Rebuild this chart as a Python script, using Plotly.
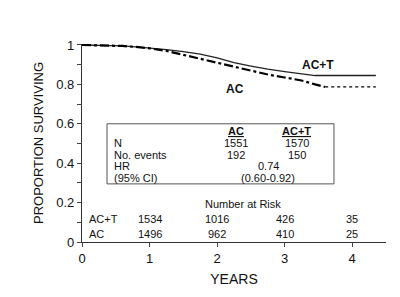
import plotly.graph_objects as go

# Kaplan-Meier curves
t_act = [0, 0.3, 0.6, 0.8, 1.0, 1.25, 1.5, 1.75, 2.0, 2.25, 2.5, 2.75, 3.0, 3.25, 3.45, 4.35]
s_act = [1, 0.998, 0.995, 0.99, 0.985, 0.976, 0.966, 0.954, 0.935, 0.91, 0.893, 0.877, 0.865, 0.855, 0.845, 0.845]
t_ac = [0, 0.3, 0.6, 0.8, 1.0, 1.25, 1.5, 1.75, 2.0, 2.25, 2.5, 2.75, 3.0, 3.25, 3.45, 3.6]
s_ac = [1, 0.998, 0.995, 0.99, 0.983, 0.97, 0.95, 0.93, 0.91, 0.89, 0.87, 0.85, 0.835, 0.82, 0.80, 0.787]
t_ac_tail = [3.6, 4.35]
s_ac_tail = [0.787, 0.787]

# Summary table
table_cols = ["AC", "AC+T"]
table_rows = ["N", "No. events", "HR", "(95% CI)"]
n_vals = ["1551", "1570"]
event_vals = ["192", "150"]
hr_text = "0.74"
ci_text = "(0.60-0.92)"

# Number at risk
risk_years = [1, 2, 3, 4]
risk_act = [1534, 1016, 426, 35]
risk_ac = [1496, 962, 410, 25]

FONT = "Liberation Sans, Arial, sans-serif"
fig = go.Figure()
fig.add_trace(go.Scatter(x=t_act, y=s_act, mode="lines",
                         line=dict(color="#222", width=1.3), showlegend=False))
fig.add_trace(go.Scatter(x=t_ac, y=s_ac, mode="lines",
                         line=dict(color="#000", width=2.2, dash="dashdot"), showlegend=False))
fig.add_trace(go.Scatter(x=t_ac_tail, y=s_ac_tail, mode="lines",
                         line=dict(color="#000", width=1.3, dash="dot"), showlegend=False))

ann = []
def A(x, y, text, size=11, xanchor="center", bold=False):
    if bold:
        text = "<b>" + text + "</b>"
    ann.append(dict(x=x, y=y, xref="x", yref="y", text=text, showarrow=False,
                    xanchor=xanchor, yanchor="middle",
                    font=dict(family=FONT, size=size, color="#111")))

A(3.5, 0.9, "AC+T", size=12, bold=True)
A(2.26, 0.775, "AC", size=12, bold=True)

# table
col_x = [2.28, 3.18]
for cx, c in zip(col_x, table_cols):
    A(cx, 0.565, "<u>" + c + "</u>", bold=True)
row_y = [0.5, 0.44, 0.385, 0.325]
for ry, r in zip(row_y, table_rows):
    A(0.45, ry, r, xanchor="left")
for cx, v in zip(col_x, n_vals):
    A(cx, row_y[0], v)
for cx, v in zip(col_x, event_vals):
    A(cx, row_y[1], v)
A(2.76, row_y[2], hr_text)
A(2.76, row_y[3], ci_text)

# number at risk
A(2.385, 0.195, "Number at Risk")
A(0.075, 0.115, "AC+T", xanchor="left")
A(0.075, 0.04, "AC", xanchor="left")
for x, v in zip(risk_years, risk_act):
    A(x, 0.115, str(v))
for x, v in zip(risk_years, risk_ac):
    A(x, 0.04, str(v))

fig.update_layout(
    width=400, height=297,
    margin=dict(l=82, r=14, t=44, b=52),
    paper_bgcolor="white", plot_bgcolor="white",
    font=dict(family=FONT, size=12, color="#111"),
    annotations=ann,
    shapes=[dict(type="rect", xref="x", yref="y", x0=0.37, x1=3.73, y0=0.295, y1=0.6,
                 line=dict(color="#555", width=1))],
    xaxis=dict(range=[0, 4.5], tickvals=[0, 1, 2, 3, 4], ticks="outside", ticklen=4,
               showline=True, linecolor="#333", linewidth=1.2, showgrid=False, zeroline=False,
               tickfont=dict(size=13), title=dict(text="YEARS", font=dict(size=14), standoff=9)),
    yaxis=dict(range=[0, 1.005], tickvals=[0, 0.1, 0.2, 0.3, 0.4, 0.5, 0.6, 0.7, 0.8, 0.9, 1.0],
               ticktext=["0", "", "0.2", "", "0.4", "", "0.6", "", "0.8", "", "1"],
               ticks="outside", ticklen=4, showline=True, linecolor="#333", linewidth=1.2,
               showgrid=False, zeroline=False, tickfont=dict(size=13),
               title=dict(text="PROPORTION SURVIVING", font=dict(size=13), standoff=9)),
)
fig.write_html("out.html")
